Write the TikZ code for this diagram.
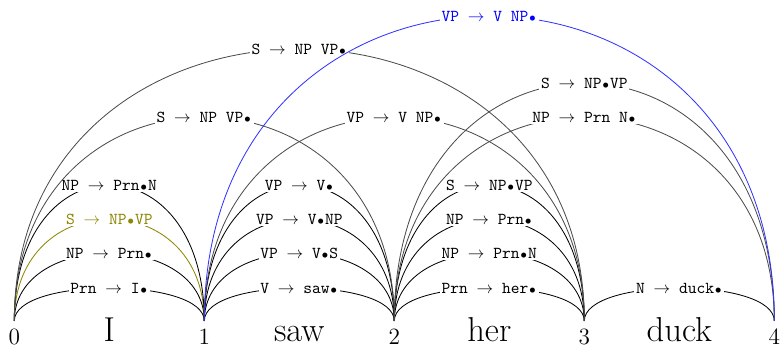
\documentclass[tikz,border=0pt]{standalone}
\usepackage{amssymb}
\newcommand{\dotm}{\kern0.5pt$\scriptstyle\bullet$\kern0.5pt}
\begin{document}
\begin{tikzpicture}[x=0.6pt,y=-0.6pt,
  lab/.style={font=\ttfamily, inner sep=1pt, fill=white, pos=0.5},
  arcline/.style={draw=black, line width=0.5pt},
  bigarc/.style={draw=black!70, line width=0.5pt},
  num/.style={font=\fontsize{14}{16}\selectfont, anchor=base},
  word/.style={font=\huge, anchor=base}]
\useasboundingbox (0,0) rectangle (780,347);
\coordinate (p0) at (14.3,321);
\coordinate (p1) at (204.3,321);
\coordinate (p2) at (394.3,321);
\coordinate (p3) at (584.3,321);
\coordinate (p4) at (774.3,321);
\node[num] (n0) at (14.3,345) {0};
\node[num] (n1) at (204.3,345) {1};
\node[num] (n2) at (394.3,345) {2};
\node[num] (n3) at (584.3,345) {3};
\node[num] (n4) at (774.3,345) {4};
\node[word] (w1) at (109.3,342) {I};
\node[word] (w2) at (299.3,342) {saw};
\node[word] (w3) at (489.3,342) {her};
\node[word] (w4) at (679.3,342) {duck};
% span 0-1
\draw[arcline] (p0) .. controls +(0,-44) and +(0,-44) .. (p1) node[lab] (a1) {Prn $\rightarrow$ I\dotm};
\draw[arcline] (p0) .. controls +(0,-90.67) and +(0,-90.67) .. (p1) node[lab] (a2) {NP $\rightarrow$ Prn\dotm};
\draw[arcline,draw=olive] (p0) .. controls +(0,-136) and +(0,-136) .. (p1) node[lab,text=olive] (a3) {S $\rightarrow$ NP\dotm VP};
\draw[arcline] (p0) .. controls +(0,-181.33) and +(0,-181.33) .. (p1) node[lab] (a4) {NP $\rightarrow$ Prn\dotm N};
% span 1-2
\draw[arcline] (p1) .. controls +(0,-44) and +(0,-44) .. (p2) node[lab] (b1) {V $\rightarrow$ saw\dotm};
\draw[arcline] (p1) .. controls +(0,-90.67) and +(0,-90.67) .. (p2) node[lab] (b2) {VP $\rightarrow$ V\dotm S};
\draw[arcline] (p1) .. controls +(0,-136) and +(0,-136) .. (p2) node[lab] (b3) {VP $\rightarrow$ V\dotm NP};
\draw[arcline] (p1) .. controls +(0,-181.33) and +(0,-181.33) .. (p2) node[lab] (b4) {VP $\rightarrow$ V\dotm};
% span 2-3
\draw[arcline] (p2) .. controls +(0,-44) and +(0,-44) .. (p3) node[lab] (c1) {Prn $\rightarrow$ her\dotm};
\draw[arcline] (p2) .. controls +(0,-90.67) and +(0,-90.67) .. (p3) node[lab] (c2) {NP $\rightarrow$ Prn\dotm N};
\draw[arcline] (p2) .. controls +(0,-136) and +(0,-136) .. (p3) node[lab] (c3) {NP $\rightarrow$ Prn\dotm};
\draw[arcline] (p2) .. controls +(0,-181.33) and +(0,-181.33) .. (p3) node[lab] (c4) {S $\rightarrow$ NP\dotm VP};
% span 3-4
\draw[arcline] (p3) .. controls +(0,-44) and +(0,-44) .. (p4) node[lab] (d1) {N $\rightarrow$ duck\dotm};
% span 0-2
\draw[bigarc] (p0) .. controls +(0,-272) and +(0,-272) .. (p2) node[lab] (e1) {S $\rightarrow$ NP VP\dotm};
% span 1-3
\draw[bigarc] (p1) .. controls +(0,-272) and +(0,-272) .. (p3) node[lab] (f1) {VP $\rightarrow$ V NP\dotm};
% span 2-4
\draw[bigarc] (p2) .. controls +(0,-272) and +(0,-272) .. (p4) node[lab] (g1) {NP $\rightarrow$ Prn N\dotm};
\draw[bigarc] (p2) .. controls +(0,-317.33) and +(0,-317.33) .. (p4) node[lab] (g2) {S $\rightarrow$ NP\dotm VP};
% span 0-3
\draw[bigarc] (p0) .. controls +(0,-362.67) and +(0,-362.67) .. (p3) node[lab] (h1) {S $\rightarrow$ NP VP\dotm};
% span 1-4
\draw[arcline,draw=blue!80] (p1) .. controls +(0,-406.67) and +(0,-406.67) .. (p4) node[lab,text=blue] (k1) {VP $\rightarrow$ V NP\dotm};
\end{tikzpicture}
\end{document}
